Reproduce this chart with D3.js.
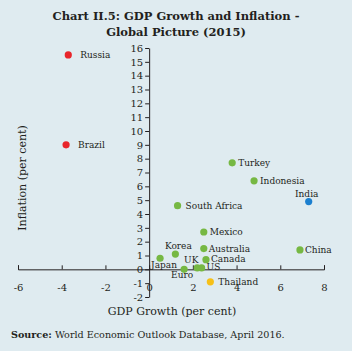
<!DOCTYPE html>
<html>
<head>
<meta charset="utf-8">
<script src="https://cdn.jsdelivr.net/npm/d3@7"></script>
<style>
  body { margin: 0; background: #dfebf0; }
  svg { display: block; }
  text { font-family: "DejaVu Serif", "Liberation Serif", serif; fill: #231f20; }
</style>
</head>
<body>
<div id="chart"></div>
<script>
// data (2015)
const countries = ["Russia", "Brazil", "Turkey", "Indonesia", "India", "South Africa", "Mexico",
  "Australia", "China", "Canada", "Korea", "Japan", "Euro", "UK", "US", "Thailand"];
const gdpGrowth = [-3.7, -3.8, 3.8, 4.8, 7.3, 1.3, 2.5, 2.5, 6.9, 2.6, 1.2, 0.5, 1.6, 2.2, 2.4, 2.8];
const inflation = [15.5, 9.0, 7.7, 6.4, 4.9, 4.6, 2.7, 1.5, 1.4, 0.7, 1.1, 0.8, 0.0, 0.1, 0.1, -0.9];
const groups = ["red", "red", "green", "green", "blue", "green", "green",
  "green", "green", "green", "green", "green", "green", "green", "green", "yellow"];
const xTicks = [-6, -4, -2, 0, 2, 4, 6, 8];
const yTicks = d3.range(-2, 17);

const colors = { red: "#e8252b", green: "#76b843", blue: "#1b7fcf", yellow: "#f6c018" };

// label placement: [dx, dy, anchor]
const labelPos = {
  "Russia": [12, 0, "start"], "Brazil": [12, 0, "start"], "Turkey": [6, 0, "start"],
  "Indonesia": [6, 0, "start"], "India": [-2, -8, "middle"], "South Africa": [8, 0, "start"],
  "Mexico": [6, 0, "start"], "Australia": [5, 0, "start"], "China": [5, 0, "start"],
  "Canada": [5, -1, "start"], "Korea": [3, -8, "middle"], "Japan": [4, 7, "middle"],
  "Euro": [-2, 6, "middle"], "UK": [-6, -8, "middle"], "US": [5, -1, "start"],
  "Thailand": [8, 0, "start"]
};

const data = countries.map((c, i) => ({ name: c, x: gdpGrowth[i], y: inflation[i], g: groups[i] }));

const width = 352, height = 351;
const svg = d3.select("#chart").append("svg").attr("width", width).attr("height", height);

svg.append("rect").attr("width", width).attr("height", height).attr("fill", "#dfebf0");

const x = d3.scaleLinear().domain([-6, 8]).range([18, 324]);
const y = d3.scaleLinear().domain([-2, 16]).range([297, 48]);

// title
const title = svg.append("text")
  .attr("text-anchor", "middle")
  .attr("font-weight", "bold")
  .attr("font-size", 11.5);
title.append("tspan").attr("x", 176).attr("y", 20).text("Chart II.5: GDP Growth and Inflation -");
title.append("tspan").attr("x", 176).attr("y", 36).text("Global Picture (2015)");

// plain hyphen for negatives, like the original
const fmt = d => String(d);

// y axis
const yAxis = svg.append("g")
  .attr("transform", `translate(${x(0)},0)`)
  .call(d3.axisLeft(y).tickValues(yTicks).tickFormat(fmt).tickSize(4).tickSizeOuter(0).tickPadding(2));

// x axis
const xAxis = svg.append("g")
  .attr("transform", `translate(0,${y(0)})`)
  .call(d3.axisBottom(x).tickValues(xTicks).tickFormat(fmt).tickSize(-4).tickSizeOuter(-4).tickPadding(15));

[yAxis, xAxis].forEach(a => {
  a.selectAll("path, line").attr("stroke", "#231f20").attr("stroke-width", 1);
  a.selectAll("text").attr("font-family", "DejaVu Serif").attr("font-size", 10).attr("fill", "#231f20");
});

// points
svg.append("g").selectAll("circle")
  .data(data)
  .enter()
  .append("circle")
  .attr("cx", d => x(d.x))
  .attr("cy", d => y(d.y))
  .attr("r", 3.6)
  .attr("fill", d => colors[d.g]);

svg.append("g").selectAll("text")
  .data(data)
  .enter()
  .append("text")
  .attr("x", d => x(d.x) + labelPos[d.name][0])
  .attr("y", d => y(d.y) + labelPos[d.name][1])
  .attr("dy", "0.35em")
  .attr("text-anchor", d => labelPos[d.name][2])
  .attr("font-size", 9)
  .text(d => d.name);

// axis titles
svg.append("text")
  .attr("x", 172).attr("y", 315)
  .attr("text-anchor", "middle")
  .attr("font-size", 11)
  .text("GDP Growth (per cent)");

svg.append("text")
  .attr("transform", "translate(26,178) rotate(-90)")
  .attr("text-anchor", "middle")
  .attr("font-size", 11)
  .text("Inflation (per cent)");

// source
const src = svg.append("text").attr("x", 11).attr("y", 338).attr("font-size", 9.6);
src.append("tspan").attr("font-weight", "bold").text("Source:");
src.append("tspan").text(" World Economic Outlook Database, April 2016.");
</script>
</body>
</html>
